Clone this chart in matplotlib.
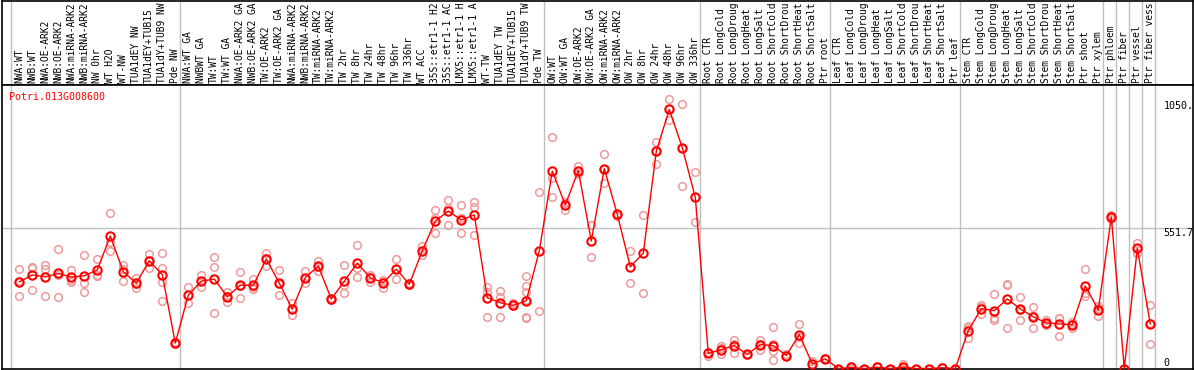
import matplotlib
matplotlib.use("Agg")
import matplotlib.pyplot as plt
from matplotlib.transforms import blended_transform_factory

gene = "Potri.013G008600"

# sample names; the chart shows them cut to 14 characters
labels = [
    "NWA:WT", "NWB:WT", "NWA:OE-ARK2", "NWB:OE-ARK2", "NWA:miRNA-ARK2", "NWB:miRNA-ARK2",
    "NW 0hr", "WT H2O", "WT-NW", "TUA1dEY NW", "TUA1dEY+TUB15 NW", "TUA1dY+TUB9 NW", "Pde NW",
    "NWA:WT GA", "NWBWT GA", "TW:WT", "TW:WT GA", "NWA:OE-ARK2 GA", "NWB:OE-ARK2 GA",
    "TW:OE-ARK2", "TW:OE-ARK2 GA", "NWA:miRNA-ARK2 GA", "NWB:miRNA-ARK2 GA", "TW:miRNA-ARK2",
    "TW:miRNA-ARK2 GA", "TW 2hr", "TW 8hr", "TW 24hr", "TW 48hr", "TW 96hr", "TW 336hr", "WT ACC",
    "35S::etr1-1 H2O", "35S::etr1-1 ACC", "LMX5::etr1-1 H2O", "LMX5::etr1-1 ACC", "WT-TW",
    "TUA1dEY TW", "TUA1dEY+TUB15 TW", "TUA1dY+TUB9 TW", "Pde TW",
    "OW:WT", "OW:WT GA", "OW:OE-ARK2", "OW:OE-ARK2 GA", "OW:miRNA-ARK2", "OW:miRNA-ARK2 GA",
    "OW 2hr", "OW 8hr", "OW 24hr", "OW 48hr", "OW 96hr", "OW 336hr",
    "Root CTR", "Root LongCold", "Root LongDrought", "Root LongHeat", "Root LongSalt",
    "Root ShortCold", "Root ShortDrought", "Root ShortHeat", "Root ShortSalt", "Ptr root",
    "Leaf CTR", "Leaf LongCold", "Leaf LongDrought", "Leaf LongHeat", "Leaf LongSalt",
    "Leaf ShortCold", "Leaf ShortDrought", "Leaf ShortHeat", "Leaf ShortSalt", "Ptr leaf",
    "Stem CTR", "Stem LongCold", "Stem LongDrought", "Stem LongHeat", "Stem LongSalt",
    "Stem ShortCold", "Stem ShortDrought", "Stem ShortHeat", "Stem ShortSalt", "Ptr shoot",
    "Ptr xylem", "Ptr phloem", "Ptr fiber", "Ptr vessel", "Ptr fiber vessel",
]

means = [
    340, 367, 360, 373, 359, 364, 387, 520, 380, 335, 423, 368, 100,
    288, 343, 351, 282, 327, 327, 430, 335, 233, 357, 402, 273, 343, 414, 356, 337, 390,
    331, 462, 579, 618, 583, 603, 278, 258, 248, 266, 462,
    775, 642, 777, 501, 785, 605, 399, 453, 853, 1017, 867, 672,
    59, 74, 90, 55, 94, 90, 51, 133, 18, 38,
    0, 4, 0, 5, 0, 5, 0, 0, 3, 0,
    149, 235, 227, 273, 234, 203, 179, 175, 172, 324, 230,
    595, 0, 472, 175,
]

reps = [
    [390, 286, 345], [400, 395, 309], [407, 389, 286], [470, 282, 368], [387, 348, 340],
    [445, 335, 300], [430, 368, 364], [610, 496, 462], [407, 344, 390], [357, 316, 333],
    [450, 394, 425], [454, 395, 339, 265], [100, 96, 104],
    [321, 256, 288], [367, 320, 343], [438, 399, 218], [299, 263, 284], [380, 277, 325],
    [350, 312, 320], [454, 404, 432], [387, 290, 330], [256, 212, 233], [381, 334, 357],
    [424, 381, 400], [276, 270, 273], [406, 326, 296], [484, 396, 359], [339, 360, 368],
    [347, 318, 340], [430, 352, 390], [328, 334, 331], [479, 446, 462], [622, 531, 590],
    [660, 563, 630], [642, 531, 590], [652, 635, 524], [320, 300, 202], [303, 280, 202],
    [257, 244, 248], [363, 324, 300, 270, 202, 198], [694, 226],
    [908, 746, 672], [621, 650, 655], [794, 762, 775], [563, 437], [844, 727, 785],
    [605, 600], [462, 335], [603, 296], [890, 801, 853], [1059, 974, 1017],
    [1037, 867, 716], [770, 574],
    [50, 65, 62], [87, 55, 80], [111, 61, 97], [55, 52], [111, 72, 98], [163, 68, 34, 95],
    [51, 48, 55], [175, 100, 125], [29, 8], [38, 40],
    [0, 0], [8, 0], [0, 0], [5, 8], [0], [16, 0], [0], [0], [5], [0],
    [167, 120, 160], [248, 214, 243], [292, 191, 198], [331, 328, 159], [280, 191, 231],
    [243, 159, 207], [192, 175, 170], [198, 128, 199], [175, 159, 182], [390, 296, 286],
    [245, 207, 238],
    [603, 587, 595], [0], [492, 453, 472], [249, 97, 179],
]

# group separators come after these samples
sep_after = [-1, 12, 40, 52, 62, 72, 83, 84, 85, 86, 87]
ytick_vals = [1050, 551.7, 0]
ytick_text = ["1050.", "551.7", "0"]

W, H = 1194, 370
fig = plt.figure(figsize=(W / 100, H / 100), dpi=100)
plt.rcParams['font.family'] = ['DejaVu Sans Mono']

xl = ((1.5 - 19.3) / 13, (1192.5 - 19.3) / 13)
grid_c = '#c0c0c0'

# header with the sample names
hx = fig.add_axes([1.5 / W, (H - 85) / H, 1191 / W, 84.5 / H])
hx.set_xlim(*xl)
hx.set_ylim(0, 1)
hx.set_xticks([])
hx.set_yticks([])
for s in hx.spines.values():
    s.set_color('black')
    s.set_linewidth(1.2)
for i, lab in enumerate(labels):
    hx.text(i, 0.025, lab[:14].rstrip(), rotation=90, ha='center', va='bottom',
            fontsize=6.9)

ax = fig.add_axes([1.5 / W, 1.5 / H, 1191 / W, 283.5 / H])
ax.set_xlim(*xl)
ax.set_ylim(0, 1113)
ax.set_xticks([])
ax.set_yticks([])
for s in ax.spines.values():
    s.set_color('black')
    s.set_linewidth(1.2)

for s in sep_after:
    ax.axvline(s + 5 / 13, color=grid_c, lw=1, zorder=0)
    hx.axvline(s + 5 / 13, color=grid_c, lw=1, zorder=0)
ax.axhline(551.7, color=grid_c, lw=1, zorder=0)

xs = list(range(len(means)))
for i, r in enumerate(reps):
    ax.plot([i] * len(r), r, 'o', ms=5.5, mfc='none', mec='#ee9a9a', mew=1.1, zorder=2)
ax.plot(xs, means, '-', color='red', lw=1, zorder=3)
ax.plot(xs, means, 'o', ms=6, mfc='none', mec='red', mew=1.5, zorder=4)

for v, t in zip(ytick_vals, ytick_text):
    ax.text(88.0, v, t, ha='left', va='bottom' if v == 0 else 'top', fontsize=7.2)

tr = blended_transform_factory(ax.transAxes, ax.transAxes)
ax.text(7.5 / 1191, 1 - 12 / 283.5, gene, color='red', fontsize=7.2, ha='left',
        va='center', transform=tr)

fig.savefig("out.png", dpi=100)
